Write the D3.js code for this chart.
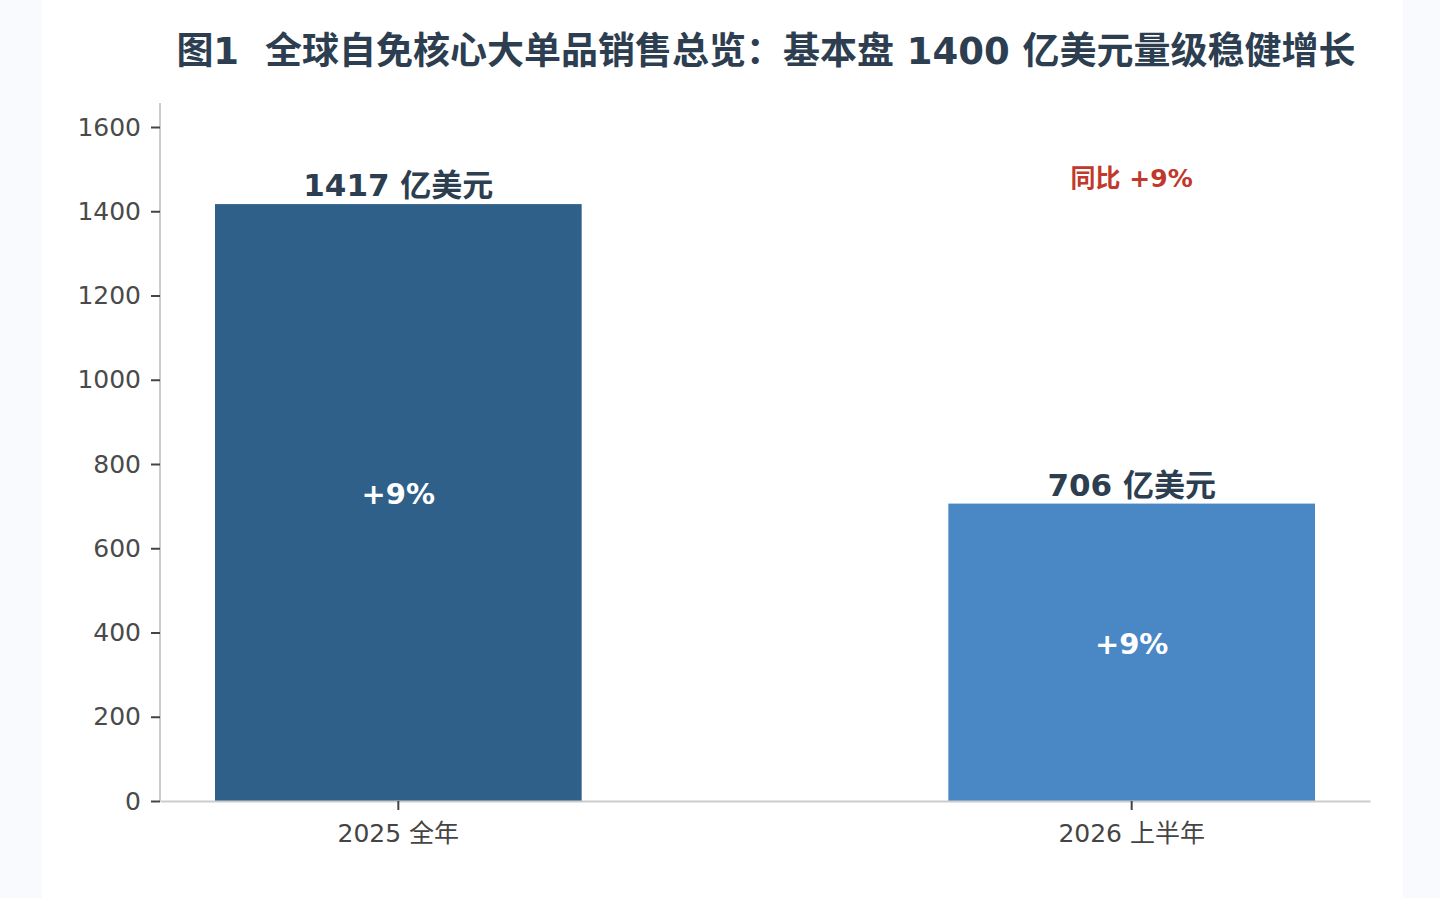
<!DOCTYPE html>
<html>
<head>
<meta charset="utf-8">
<script src="https://cdn.jsdelivr.net/npm/d3@7"></script>
<style>
  html, body { margin: 0; padding: 0; background: #f8fafd; }
  svg { display: block; }
  .axis text { font-family: "DejaVu Sans", "Noto Sans CJK SC", sans-serif; }
</style>
</head>
<body>
<script>
const SvgWidth = 1440, SvgHeight = 898;
var margin = {top: 127, right: 70, bottom: 97, left: 160};
var Width = SvgWidth - margin.left - margin.right;
var Height = SvgHeight - margin.top - margin.bottom;

// data
var categories = ['2025 全年', '2026 上半年'];
var sales = [1417, 706];
var growth = ['+9%', '+9%'];
var barColors = ['#2f6089', '#4a87c5'];
var yTicks = [0, 200, 400, 600, 800, 1000, 1200, 1400, 1600];
var titleText = '图1  全球自免核心大单品销售总览：基本盘 1400 亿美元量级稳健增长';
var yoyNote = '同比 +9%';

var font = '"DejaVu Sans", "Noto Sans CJK SC", sans-serif';

var svg = d3.select('body')
  .append('svg')
  .attr('width', SvgWidth)
  .attr('height', SvgHeight);

// white panel
svg.append('rect')
  .attr('x', 42).attr('y', 0)
  .attr('width', 1361).attr('height', SvgHeight)
  .attr('fill', '#ffffff');

svg.append('text')
  .attr('x', 766).attr('y', 64)
  .attr('text-anchor', 'middle')
  .attr('font-family', font)
  .attr('font-weight', 700)
  .attr('font-size', 37)
  .attr('fill', '#2c3e50')
  .style('white-space', 'pre')
  .text(titleText);

var g = svg.append('g')
  .attr('transform', 'translate(' + margin.left + ',' + margin.top + ')');

var x = d3.scaleBand().domain(categories).range([0, Width])
  .paddingInner(0.5).paddingOuter(0.075);
var y = d3.scaleLinear().domain([0, 1600]).range([Height, 0]);

// bars
g.selectAll('.bar')
  .data(sales)
  .enter().append('rect')
    .attr('class', 'bar')
    .attr('x', function(d, i) { return x(categories[i]); })
    .attr('y', function(d) { return y(d); })
    .attr('width', x.bandwidth())
    .attr('height', function(d) { return Height - y(d); })
    .attr('fill', function(d, i) { return barColors[i]; });

// x axis
var xAxis = g.append('g')
  .attr('class', 'axis axis--x')
  .attr('transform', 'translate(0,' + Height + ')')
  .call(d3.axisBottom(x).tickSize(9).tickSizeOuter(0).tickPadding(14));
xAxis.select('.domain').attr('stroke', '#cccccc').attr('stroke-width', 2);
xAxis.selectAll('.tick line').attr('stroke', '#444').attr('stroke-width', 2);
xAxis.selectAll('.tick text').attr('font-size', 25).attr('fill', '#444');

// y axis
var yAxis = g.append('g')
  .attr('class', 'axis axis--y')
  .call(d3.axisLeft(y).tickValues(yTicks).tickFormat(d3.format('d'))
    .tickSize(9).tickSizeOuter(0).tickPadding(10));
yAxis.select('.domain').attr('stroke', '#cccccc').attr('stroke-width', 2)
  .attr('d', 'M0,' + Height + 'V-24');
yAxis.selectAll('.tick line').attr('stroke', '#444').attr('stroke-width', 2);
yAxis.selectAll('.tick text').attr('font-size', 25).attr('fill', '#4a4a4a');

// value labels above bars
g.selectAll('.value')
  .data(sales)
  .enter().append('text')
    .attr('class', 'value')
    .attr('x', function(d, i) { return x(categories[i]) + x.bandwidth() / 2; })
    .attr('y', function(d) { return y(d) - 8; })
    .attr('text-anchor', 'middle')
    .attr('font-family', font)
    .attr('font-weight', 700)
    .attr('font-size', 31)
    .attr('fill', '#2c3e50')
    .text(function(d) { return d + ' 亿美元'; });

// growth labels inside bars
g.selectAll('.growth')
  .data(sales)
  .enter().append('text')
    .attr('class', 'growth')
    .attr('x', function(d, i) { return x(categories[i]) + x.bandwidth() / 2; })
    .attr('y', function(d) { return (y(d) + Height) / 2; })
    .attr('dy', '0.05em')
    .attr('text-anchor', 'middle')
    .attr('font-family', font)
    .attr('font-weight', 700)
    .attr('font-size', 29)
    .attr('fill', '#ffffff')
    .text(function(d, i) { return growth[i]; });

// yoy note
g.append('text')
  .attr('x', x(categories[1]) + x.bandwidth() / 2)
  .attr('y', y(1600) + 60)
  .attr('text-anchor', 'middle')
  .attr('font-family', font)
  .attr('font-weight', 700)
  .attr('font-size', 25)
  .attr('fill', '#c0392b')
  .text(yoyNote);
</script>
</body>
</html>
